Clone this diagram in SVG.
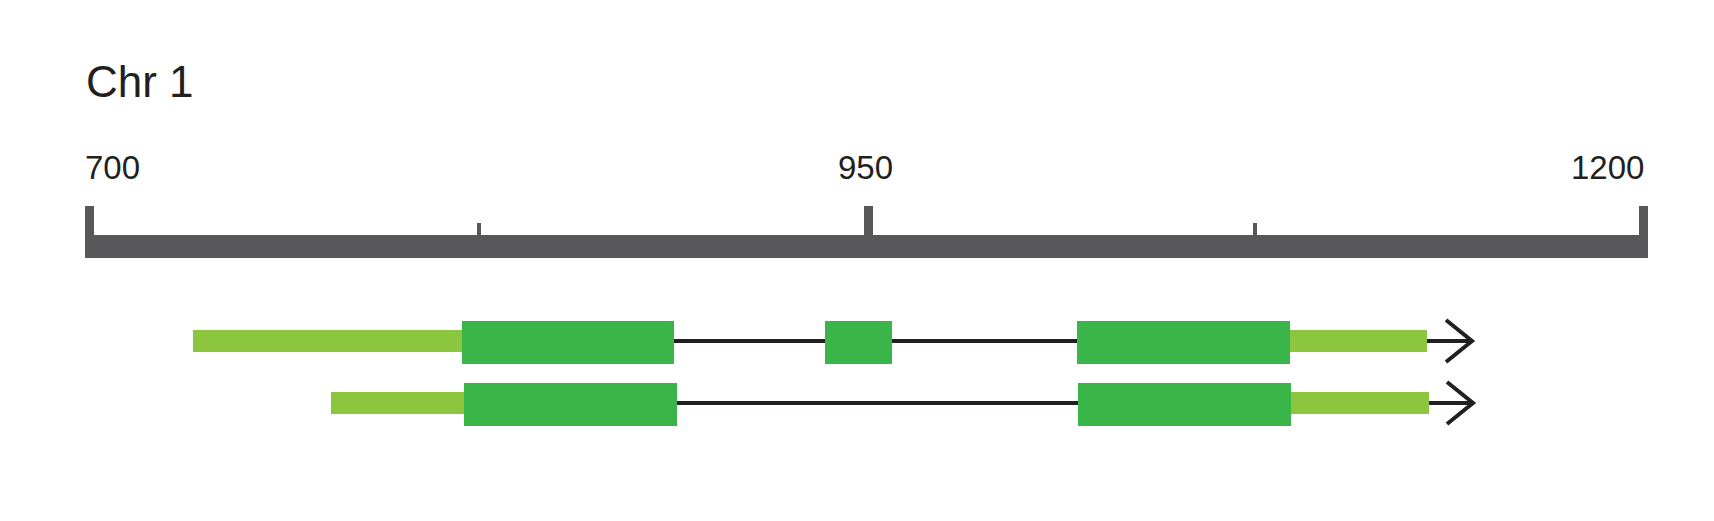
<svg xmlns="http://www.w3.org/2000/svg" width="1714" height="521" viewBox="0 0 1714 521">
<style>
text{font-family:"Liberation Sans",Arial,sans-serif;fill:#231f20}
.axis{fill:#58585a}
.utr{fill:#8cc63f}
.exon{fill:#3ab54a}
.intron{stroke:#231f20;stroke-width:4;fill:none}
.chev{stroke:#231f20;stroke-width:4;fill:none;stroke-linejoin:miter}
</style>
<g id="title"><text x="86" y="97" font-size="44">Chr 1</text></g>
<g id="axis">
<rect class="axis" x="85" y="235" width="1563" height="23"/>
<rect class="axis" x="85" y="206" width="9" height="30"/>
<rect class="axis" x="864" y="206" width="9" height="30"/>
<rect class="axis" x="1639" y="206" width="9" height="30"/>
<rect class="axis" x="477" y="223" width="4" height="13"/>
<rect class="axis" x="1253" y="223" width="4" height="13"/>
<text x="85" y="179" font-size="33">700</text>
<text x="838" y="179" font-size="33">950</text>
<text x="1571" y="179" font-size="33">1200</text>
</g>
<g id="connectors">
<line class="intron" x1="674" y1="341" x2="1472" y2="341"/>
<polyline class="chev" points="1446,320 1472,341 1446,362"/>
<line class="intron" x1="677" y1="403" x2="1473" y2="403"/>
<polyline class="chev" points="1447,382 1473,403 1447,424"/>
</g>
<g id="transcript1">
<rect class="utr" x="193" y="330" width="270" height="22"/>
<rect class="exon" x="462" y="321" width="212" height="43"/>
<rect class="exon" x="825" y="321" width="67" height="43"/>
<rect class="exon" x="1077" y="321" width="213" height="43"/>
<rect class="utr" x="1290" y="330" width="137" height="22"/>
</g>
<g id="transcript2">
<rect class="utr" x="331" y="392" width="134" height="22"/>
<rect class="exon" x="464" y="383" width="213" height="43"/>
<rect class="exon" x="1078" y="383" width="213" height="43"/>
<rect class="utr" x="1291" y="392" width="138" height="22"/>
</g>
</svg>
